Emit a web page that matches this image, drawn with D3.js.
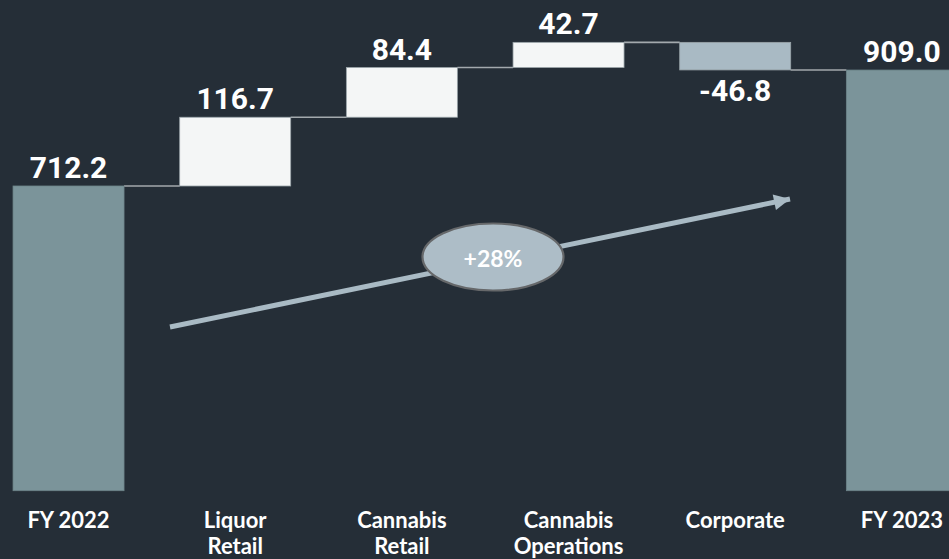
<!DOCTYPE html>
<html>
<head>
<meta charset="utf-8">
<script src="https://cdn.jsdelivr.net/npm/d3@7"></script>
<style>
  html, body { margin: 0; padding: 0; background: #252e37; overflow: hidden; }
  svg { display: block; }
</style>
</head>
<body>
<svg id="chart" width="949" height="559"></svg>
<script>
// Waterfall: FY 2022 to FY 2023 bridge by segment
const categories = ["FY 2022", "Liquor Retail", "Cannabis Retail", "Cannabis Operations", "Corporate", "FY 2023"];
const categoryLines = [["FY 2022"], ["Liquor", "Retail"], ["Cannabis", "Retail"], ["Cannabis", "Operations"], ["Corporate"], ["FY 2023"]];
const values = [712.2, 116.7, 84.4, 42.7, -46.8, 909.0];
const kinds = ["total", "delta", "delta", "delta", "delta", "total"];
const growthLabel = "+28%";

const W = 949, H = 559;
const svg = d3.select("#chart");

const x = d3.scaleBand()
  .domain(categories)
  .range([-14.8, 985.2])
  .paddingInner(0.334)
  .paddingOuter(0.167);

const y = d3.scaleLinear().domain([195, 960]).range([490.7, 40]);

// running start/end for each step
let run = 0;
const steps = categories.map((c, i) => {
  let start, end;
  if (kinds[i] === "total") { start = y.domain()[0]; end = values[i]; run = values[i]; }
  else { start = run; end = run + values[i]; run = end; }
  return { c, i, start, end, v: values[i], kind: kinds[i] };
});

function fillFor(d) {
  if (d.kind === "total") return "#7b949a";
  return d.v >= 0 ? "#f4f6f6" : "#a9bac4";
}

// connectors between bars
const conn = steps.slice(0, -1).map((d, i) => ({
  x1: x(d.c) + x.bandwidth(),
  x2: x(steps[i + 1].c),
  level: d.end
}));
svg.append("g").selectAll("line").data(conn).join("line")
  .attr("x1", d => d.x1).attr("x2", d => d.x2)
  .attr("y1", d => y(d.level)).attr("y2", d => y(d.level))
  .attr("stroke", "#a3a9ad").attr("stroke-width", 1.6);

// bars
svg.append("g").selectAll("rect").data(steps).join("rect")
  .attr("x", d => x(d.c))
  .attr("width", x.bandwidth())
  .attr("y", d => y(Math.max(d.start, d.end)))
  .attr("height", d => Math.abs(y(d.start) - y(d.end)))
  .attr("fill", fillFor)
  .attr("stroke", d => d.kind === "total" ? "#6d8489" : "#9aa4a9")
  .attr("stroke-width", 0.8);

// value labels
svg.append("g").selectAll("text").data(steps).join("text")
  .attr("x", d => x(d.c) + x.bandwidth() / 2)
  .attr("y", d => d.v < 0 ? y(d.end) + 31 : y(Math.max(d.start, d.end)) - 8)
  .attr("text-anchor", "middle")
  .attr("font-family", "Roboto, sans-serif")
  .attr("font-weight", 700)
  .attr("font-size", 30)
  .attr("fill", "#ffffff")
  .text(d => d.v.toFixed(1));

// category labels
const cat = svg.append("g").selectAll("text").data(steps).join("text")
  .attr("x", d => x(d.c) + x.bandwidth() / 2)
  .attr("y", 528)
  .attr("text-anchor", "middle")
  .attr("font-family", "Lato, sans-serif")
  .attr("font-weight", 700)
  .attr("font-size", 22)
  .attr("fill", "#ffffff");
cat.selectAll("tspan").data(d => categoryLines[d.i].map(t => ({ t, cx: x(d.c) + x.bandwidth() / 2 })))
  .join("tspan")
  .attr("x", d => d.cx)
  .attr("dy", (d, j) => j === 0 ? 0 : 26)
  .text(d => d.t);

// growth arrow
const defs = svg.append("defs");
defs.append("marker")
  .attr("id", "head")
  .attr("viewBox", "0 0 10 10")
  .attr("refX", 10).attr("refY", 5)
  .attr("markerUnits", "userSpaceOnUse")
  .attr("markerWidth", 18).attr("markerHeight", 16)
  .attr("orient", "auto")
  .append("path").attr("d", "M0,0 L10,5 L0,10 Z").attr("fill", "#a9bac4");

const ax1 = 170, ay1 = 327, ax2 = 790, ay2 = 199;
svg.append("line")
  .attr("x1", ax1).attr("y1", ay1)
  .attr("x2", ax2).attr("y2", ay2)
  .attr("stroke", "#a9bac4").attr("stroke-width", 5)
  .attr("marker-end", "url(#head)");

svg.append("ellipse")
  .attr("cx", 493).attr("cy", 257)
  .attr("rx", 70.5).attr("ry", 33.5)
  .attr("fill", "#adbdc7")
  .attr("stroke", "#66686a").attr("stroke-width", 2.2);

svg.append("text")
  .attr("x", 493).attr("y", 267)
  .attr("text-anchor", "middle")
  .attr("font-family", "Lato, sans-serif")
  .attr("font-weight", 700)
  .attr("font-size", 23)
  .attr("fill", "#ffffff")
  .text(growthLabel);
</script>
</body>
</html>
